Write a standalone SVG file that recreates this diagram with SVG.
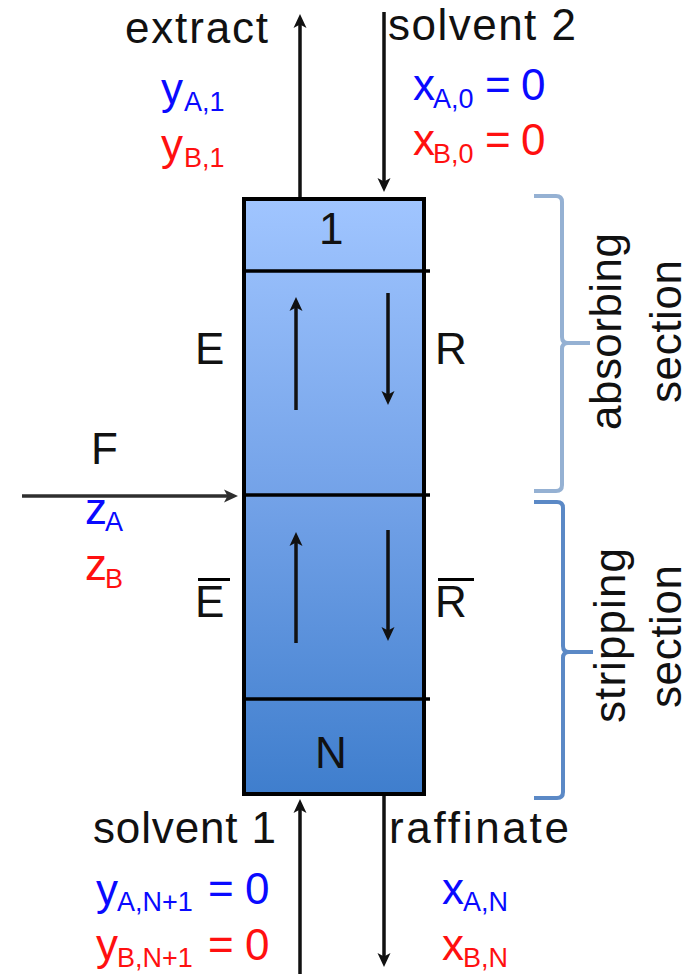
<svg xmlns="http://www.w3.org/2000/svg" width="691" height="974" viewBox="0 0 691 974">
<defs>
<linearGradient id="col" gradientUnits="userSpaceOnUse" x1="0" y1="199" x2="0" y2="794">
<stop offset="0" stop-color="#a0c5ff"/>
<stop offset="0.5" stop-color="#73a2e8"/>
<stop offset="1" stop-color="#3f7ecd"/>
</linearGradient>
<marker id="ahk" markerUnits="userSpaceOnUse" markerWidth="16" markerHeight="16" viewBox="0 0 16 16" refX="8" refY="8" orient="auto">
<path d="M1,1.5 L15,8 L1,14.5 L4.5,8 z" fill="#111"/>
</marker>
<marker id="ahg" markerUnits="userSpaceOnUse" markerWidth="16" markerHeight="16" viewBox="0 0 16 16" refX="8" refY="8" orient="auto">
<path d="M1,1.5 L15,8 L1,14.5 L4.5,8 z" fill="#2e2e2e"/>
</marker>
</defs>
<style>
text{font-family:"Liberation Sans",Arial,sans-serif;font-size:44px;fill:#111}
.sub{font-size:27px}
.b{fill:#0a0aff}
.r{fill:#ff1010}
.cell{fill:url(#col)}
.div{stroke:#000;stroke-width:3.5}
.flow{stroke:#111;stroke-width:3.5;fill:none;marker-end:url(#ahk)}
.feed{stroke:#2e2e2e;stroke-width:3.5;fill:none;marker-end:url(#ahg)}
.brace1{fill:none;stroke:#95b1d3;stroke-width:4}
.brace2{fill:none;stroke:#5b89c6;stroke-width:4}
.bar{fill:#000}
</style>

<g id="column">
<rect x="244" y="199" width="180" height="595" class="cell" stroke="#000" stroke-width="4"/>
</g>
<g id="stage-1">
<text x="319" y="244">1</text>
</g>
<g id="absorbing-section">
<line class="div" x1="244" y1="271" x2="430" y2="271"/>
<text x="195" y="364">E</text>
<text x="435" y="364">R</text>
</g>
<g id="stripping-section">
<line class="div" x1="244" y1="495" x2="430" y2="495"/>
<text x="195" y="617">E</text>
<rect class="bar" x="198" y="578" width="32" height="3"/>
<text x="435" y="617">R</text>
<rect class="bar" x="438" y="578" width="36" height="3"/>
</g>
<g id="stage-N">
<line class="div" x1="244" y1="699" x2="430" y2="699"/>
<text x="315" y="768">N</text>
</g>

<g id="connectors">
<line class="flow" x1="300" y1="197" x2="300" y2="21"/>
<line class="flow" x1="384" y1="12" x2="384" y2="185"/>
<line class="flow" x1="300" y1="974" x2="300" y2="806"/>
<line class="flow" x1="384" y1="796" x2="384" y2="960"/>
<line class="feed" x1="22" y1="496" x2="231" y2="496"/>
<line class="flow" x1="296" y1="410" x2="296" y2="304"/>
<line class="flow" x1="388" y1="293" x2="388" y2="398"/>
<line class="flow" x1="296" y1="643" x2="296" y2="539"/>
<line class="flow" x1="388" y1="530" x2="388" y2="634"/>
</g>

<g id="extract">
<text x="125" y="43" textLength="143">extract</text>
<text x="161" y="104" class="b">y</text><text x="184" y="111" class="sub b">A,1</text>
<text x="161" y="160" class="r">y</text><text x="184" y="167" class="sub r">B,1</text>
</g>
<g id="solvent-2">
<text x="388" y="40" textLength="188">solvent 2</text>
<text x="413" y="100" class="b">x</text><text x="433" y="108" class="sub b">A,0</text>
<text x="485" y="100" class="b">=</text><text x="521" y="100" class="b">0</text>
<text x="413" y="155" class="r">x</text><text x="433" y="163" class="sub r">B,0</text>
<text x="485" y="155" class="r">=</text><text x="521" y="155" class="r">0</text>
</g>
<g id="feed">
<text x="91" y="464">F</text>
<text x="85" y="524" class="b">z</text><text x="105" y="531" class="sub b">A</text>
<text x="85" y="580" class="r">z</text><text x="105" y="588" class="sub r">B</text>
</g>
<g id="solvent-1">
<text x="93" y="843" textLength="183">solvent 1</text>
<text x="96" y="905" class="b">y</text><text x="117" y="911" class="sub b">A,N+1</text>
<text x="208" y="904" class="b">=</text><text x="245" y="904" class="b">0</text>
<text x="96" y="960" class="r">y</text><text x="117" y="967" class="sub r">B,N+1</text>
<text x="208" y="960" class="r">=</text><text x="245" y="960" class="r">0</text>
</g>
<g id="raffinate">
<text x="389" y="843" textLength="180">raffinate</text>
<text x="442" y="904" class="b">x</text><text x="463" y="911" class="sub b">A,N</text>
<text x="442" y="960" class="r">x</text><text x="463" y="967" class="sub r">B,N</text>
</g>

<g id="absorbing-brace">
<path class="brace1" d="M534,196 H556 Q562,196 562,202 V337 Q562,343 568,343 H590 M568,343 Q562,343 562,349 V485 Q562,491 556,491 H534"/>
<text transform="translate(621,331.5) rotate(-90)" text-anchor="middle" textLength="197">absorbing</text>
<text transform="translate(681,331.5) rotate(-90)" text-anchor="middle" textLength="143">section</text>
</g>
<g id="stripping-brace">
<path class="brace2" d="M534,502 H557 Q563,502 563,508 V646 Q563,652 569,652 H593 M569,652 Q563,652 563,658 V792 Q563,798 557,798 H534"/>
<text transform="translate(625,635.5) rotate(-90)" text-anchor="middle" textLength="175">stripping</text>
<text transform="translate(681,636.5) rotate(-90)" text-anchor="middle" textLength="143">section</text>
</g>
</svg>
